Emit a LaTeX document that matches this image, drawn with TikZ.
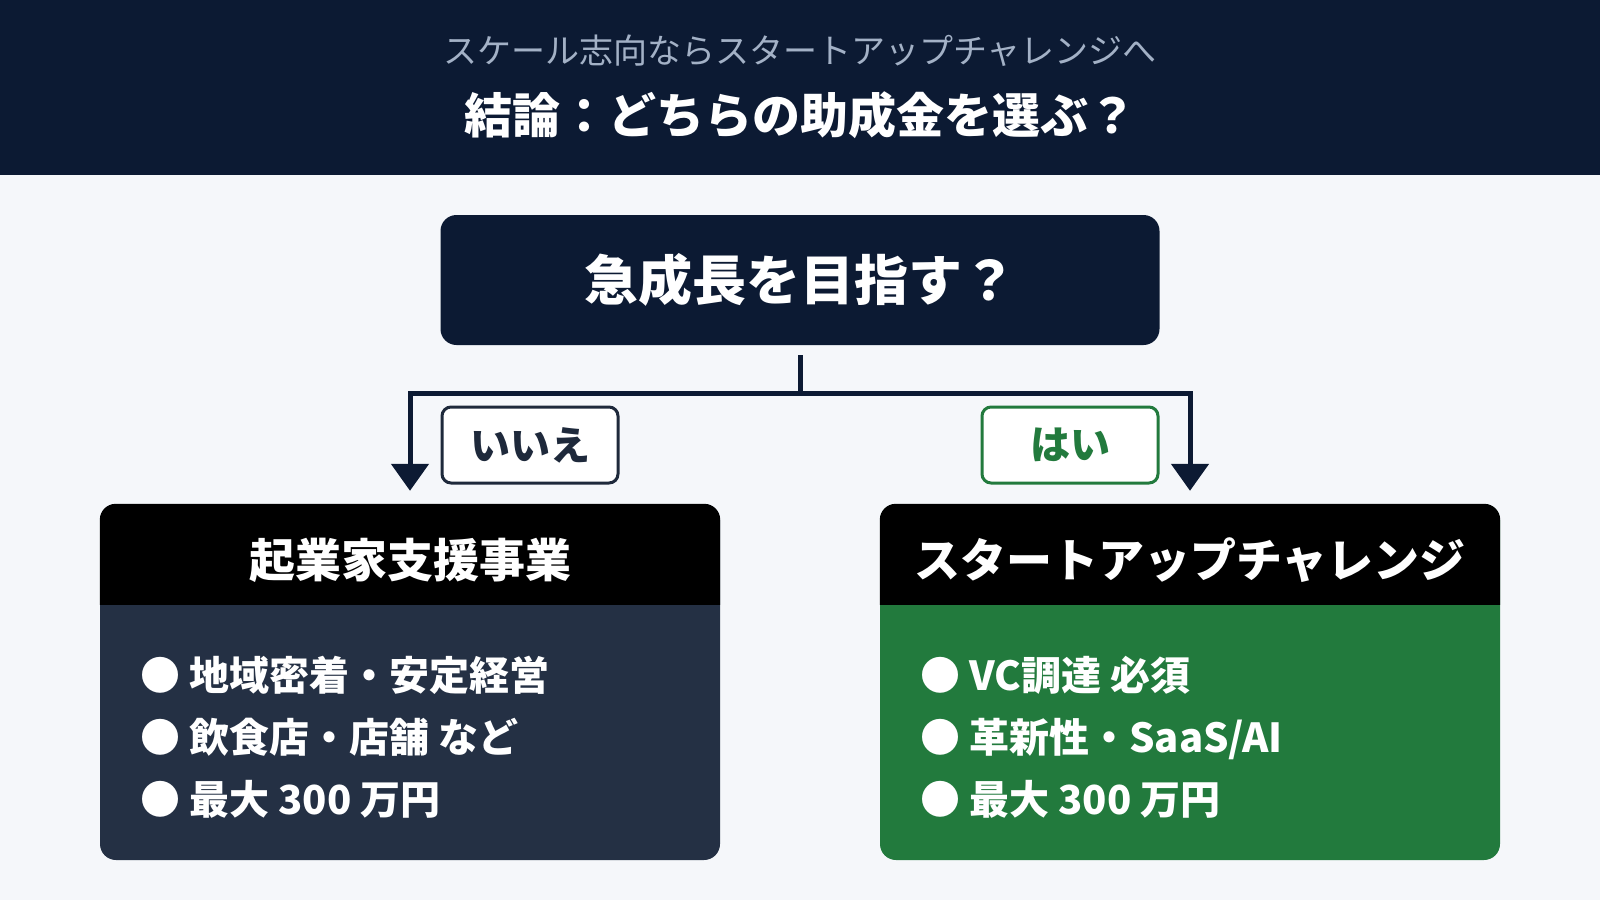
\documentclass[tikz,border=0pt]{standalone}
\usepackage{fontspec}
\setmainfont{Noto Sans CJK JP}
\usetikzlibrary{arrows.meta,positioning,calc}

\definecolor{navy}{HTML}{0C1A33}
\definecolor{paper}{HTML}{F5F7FA}
\definecolor{mist}{HTML}{A3B1C6}
\definecolor{slate}{HTML}{243044}
\definecolor{ink}{HTML}{1E293B}
\definecolor{leaf}{HTML}{227A3D}

\begin{document}
\begin{tikzpicture}[x=1pt,y=-1pt,
  card/.style={minimum width=620pt,minimum height=356pt,inner sep=0pt,rounded corners=16pt},
  cardhead/.style={text=white,font=\fontsize{46}{50}\selectfont\bfseries},
  item/.style={anchor=base west,text=white,inner sep=0pt,font=\fontsize{40}{44}\selectfont\bfseries},
  tag/.style={fill=white,line width=3pt,rounded corners=9pt,minimum width=176pt,minimum height=76pt,
    font=\fontsize{40}{44}\selectfont\bfseries},
  flow/.style={draw=navy,line width=5pt,-{Triangle[width=37pt,length=27pt]}}]
  % background and banner
  \fill[paper] (0,0) rectangle (1600,900);
  \useasboundingbox (0,0) rectangle (1600,900);
  \fill[navy] (0,0) rectangle (1600,175);
  \node[text=mist,font=\fontsize{34}{38}\selectfont] (subtitle) at (800,51) {スケール志向ならスタートアップチャレンジへ};
  \node[text=white,font=\fontsize{48}{52}\selectfont\bfseries] (title) at (800,115) {結論：どちらの助成金を選ぶ？};

  % question
  \node[fill=navy,rounded corners=16pt,minimum width=719pt,minimum height=130pt,text=white,
    font=\fontsize{54}{58}\selectfont\bfseries] (question) at (800,280) {急成長を目指す？};

  % two cards
  \node[card,fill=slate] (left) at (410,682) {};
  \node[card,fill=leaf] (right) at (1190,682) {};
  \fill[black] ([yshift=-101pt]left.north west) [rounded corners=16pt] -- (left.north west)
    -- (left.north east) [sharp corners] -- ([yshift=-101pt]left.north east) -- cycle;
  \fill[black] ([yshift=-101pt]right.north west) [rounded corners=16pt] -- (right.north west)
    -- (right.north east) [sharp corners] -- ([yshift=-101pt]right.north east) -- cycle;
  \node[cardhead] (leftHead) at (410,560) {起業家支援事業};
  \node[cardhead] (rightHead) at (1190,560) {スタートアップチャレンジ};

  \node[item] (leftA) at (140,690) {● 地域密着・安定経営};
  \node[item] (leftB) at (140,752) {● 飲食店・店舗 など};
  \node[item] (leftC) at (140,814) {● 最大 300 万円};
  \node[item] (rightA) at (920,690) {● VC調達 必須};
  \node[item] (rightB) at (920,752) {● 革新性・SaaS/AI};
  \node[item] (rightC) at (920,814) {● 最大 300 万円};

  % branches
  \coordinate (split) at (800,393);
  \draw[navy,line width=5pt] ([yshift=-10pt]question.south) -- (split);
  \draw[flow] (split) -| ([yshift=13pt]left.north);
  \draw[flow] (split) -| ([yshift=13pt]right.north);
  \node[tag,draw=ink,text=ink] (no) at (530,445) {いいえ};
  \node[tag,draw=leaf,text=leaf] (yes) at (1070,445) {はい};
\end{tikzpicture}
\end{document}
